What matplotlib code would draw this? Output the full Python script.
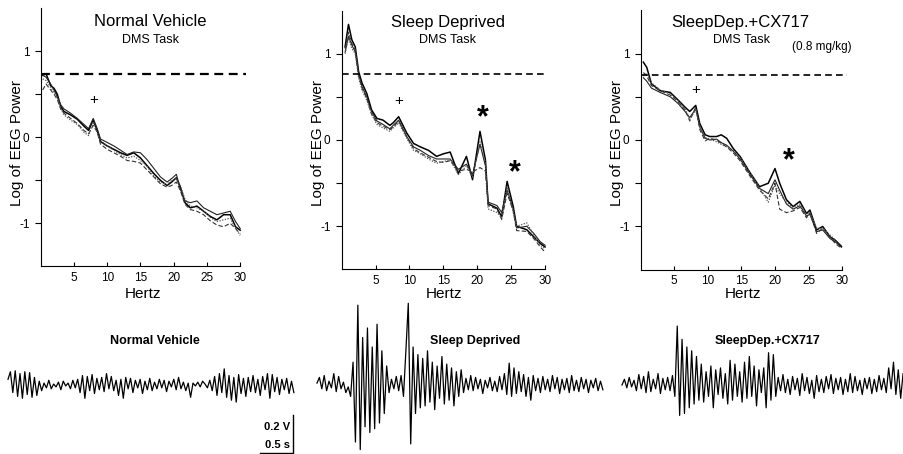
import matplotlib

matplotlib.use("Agg")

import matplotlib.pyplot as plt
import numpy as np

plt.rcParams["font.family"] = ["Liberation Sans", "DejaVu Sans"]

W, H = 904, 454

# ---- power spectra (log EEG power vs Hz), four overlaid sessions per panel ----
NV_HZ = [0.3, 0.8, 1.5, 2.0, 2.5, 3.0, 3.5, 4.5, 5.5, 6.5, 7.2, 7.9, 8.5, 9.0, 10, 11, 12, 13,
         14, 15, 16, 17, 18, 19, 19.7, 20.4, 21, 21.7, 22.5, 23.5, 24.5, 25.5, 26.5, 27.5,
         28.5, 29.3, 30]
NV_A = [0.72, 0.74, 0.60, 0.57, 0.50, 0.36, 0.30, 0.26, 0.21, 0.13, 0.08, 0.20, 0.08, -0.05,
        -0.10, -0.14, -0.18, -0.21, -0.18, -0.24, -0.33, -0.42, -0.50, -0.56, -0.52, -0.47,
        -0.58, -0.76, -0.82, -0.80, -0.86, -0.92, -0.96, -0.90, -0.90, -1.04, -1.08]
NV_B = [0.72, 0.70, 0.62, 0.55, 0.47, 0.38, 0.33, 0.28, 0.22, 0.15, 0.10, 0.22, 0.10, -0.02,
        -0.06, -0.10, -0.15, -0.20, -0.17, -0.18, -0.26, -0.36, -0.46, -0.52, -0.48, -0.43,
        -0.60, -0.74, -0.76, -0.74, -0.82, -0.86, -0.90, -0.88, -0.86, -0.98, -1.06]
NV_C = [0.55, 0.62, 0.55, 0.50, 0.44, 0.33, 0.28, 0.22, 0.16, 0.08, 0.04, 0.14, 0.06, -0.08,
        -0.14, -0.18, -0.22, -0.27, -0.28, -0.30, -0.38, -0.46, -0.54, -0.58, -0.56, -0.52,
        -0.62, -0.78, -0.84, -0.86, -0.90, -0.97, -1.02, -1.04, -1.00, -1.06, -1.12]
NV_D = [0.68, 0.66, 0.58, 0.52, 0.46, 0.34, 0.26, 0.20, 0.15, 0.06, 0.02, 0.18, 0.05, -0.04,
        -0.10, -0.15, -0.20, -0.24, -0.22, -0.27, -0.34, -0.45, -0.52, -0.55, -0.50, -0.48,
        -0.56, -0.72, -0.80, -0.82, -0.86, -0.93, -0.98, -0.96, -0.94, -1.06, -1.14]

SD_HZ = [0.5, 1.0, 1.5, 2.0, 2.5, 3.0, 3.7, 4.4, 5.2, 6.1, 7.1, 7.6, 8.4, 9.6, 10.6, 11.6, 12.8,
         14.0, 15.0, 16.0, 17.2, 18.4, 19.3, 20.4, 21.2, 21.6, 22.9, 23.6, 24.4, 25.3, 25.8,
         27.3, 28.3, 29.3, 30]
SD_A = [1.08, 1.34, 1.16, 1.08, 0.79, 0.66, 0.54, 0.35, 0.25, 0.23, 0.17, 0.20, 0.27, 0.08,
        -0.04, -0.08, -0.12, -0.19, -0.16, -0.14, -0.39, -0.19, -0.46, 0.10, -0.23, -0.74,
        -0.79, -0.89, -0.48, -0.77, -1.00, -1.04, -1.12, -1.20, -1.24]
SD_B = [1.02, 1.20, 1.10, 1.02, 0.76, 0.62, 0.50, 0.33, 0.22, 0.18, 0.13, 0.17, 0.23, 0.04,
        -0.08, -0.12, -0.18, -0.22, -0.22, -0.22, -0.34, -0.28, -0.40, -0.05, -0.30, -0.72,
        -0.76, -0.84, -0.58, -0.80, -1.02, -1.00, -1.08, -1.18, -1.22]
SD_C = [1.06, 1.25, 1.12, 1.05, 0.74, 0.60, 0.48, 0.30, 0.20, 0.16, 0.12, 0.15, 0.22, 0.03,
        -0.10, -0.15, -0.20, -0.25, -0.26, -0.24, -0.36, -0.34, -0.37, -0.32, -0.36, -0.76,
        -0.80, -0.92, -0.62, -0.82, -1.05, -1.06, -1.14, -1.24, -1.30]
SD_D = [1.00, 1.18, 1.06, 1.00, 0.72, 0.58, 0.46, 0.30, 0.18, 0.14, 0.10, 0.14, 0.20, 0.02,
        -0.12, -0.16, -0.22, -0.27, -0.25, -0.23, -0.40, -0.30, -0.43, -0.02, -0.26, -0.80,
        -0.84, -0.90, -0.54, -0.84, -1.00, -0.96, -1.10, -1.22, -1.26]

CX_HZ = [0.4, 0.9, 1.6, 2.9, 4.4, 5.6, 6.6, 7.3, 8.2, 8.8, 9.6, 10.3, 11.3, 12.0, 12.8, 13.8,
         14.8, 16.3, 17.7, 19.0, 20.0, 20.7, 21.7, 22.7, 23.7, 24.7, 25.2, 26.2, 27.1, 28.2,
         29.0, 29.9]
CX_A = [0.90, 0.84, 0.65, 0.57, 0.55, 0.46, 0.38, 0.33, 0.40, 0.19, 0.06, 0.04, 0.04, 0.06,
        0.02, -0.10, -0.19, -0.38, -0.54, -0.50, -0.33, -0.50, -0.69, -0.77, -0.71, -0.85,
        -0.81, -1.04, -1.00, -1.12, -1.16, -1.23]
CX_B = [0.72, 0.68, 0.60, 0.55, 0.50, 0.42, 0.33, 0.26, 0.36, 0.15, 0.02, 0.00, 0.01, -0.03,
        -0.06, -0.13, -0.22, -0.40, -0.56, -0.62, -0.46, -0.58, -0.74, -0.80, -0.76, -0.88,
        -0.86, -1.06, -1.04, -1.14, -1.18, -1.24]
CX_C = [0.78, 0.74, 0.63, 0.57, 0.52, 0.44, 0.35, 0.22, 0.38, 0.12, -0.01, 0.02, 0.00, -0.04,
        -0.08, -0.15, -0.24, -0.42, -0.58, -0.68, -0.50, -0.80, -0.84, -0.82, -0.78, -0.90,
        -0.84, -1.08, -1.02, -1.12, -1.20, -1.25]
CX_D = [0.74, 0.77, 0.66, 0.58, 0.53, 0.45, 0.36, 0.24, 0.35, 0.16, 0.03, 0.01, -0.02, -0.05,
        -0.08, -0.12, -0.20, -0.38, -0.55, -0.72, -0.52, -0.62, -0.72, -0.78, -0.74, -0.86,
        -0.84, -1.02, -1.02, -1.10, -1.16, -1.22]

PANEL_TITLES = ["Normal Vehicle", "Sleep Deprived", "SleepDep.+CX717"]
THRESHOLDS = [0.74, 0.76, 0.75]
NV_MARKS = [("+", 7.9, 0.43)]
SD_MARKS = [("+", 8.4, 0.45), ("*", 20.8, 0.37), ("*", 25.6, -0.27)]
CX_MARKS = [("+", 8.2, 0.58), ("*", 22.0, -0.12)]
X_TICKS = [5, 10, 15, 20, 25, 30]
Y_TICKS = [-1, 0, 1]
Y_TICK_LABELS = ["-1", "0", "1"]

# ---- raw EEG samples (mV), one sample every 0.0364 s ----
TRACE_NAMES = ["Normal Vehicle", "Sleep Deprived", "SleepDep.+CX717"]
EEG_NV = [30, 70, -40, 75, -60, 60, -70, 70, -50, 65, -65, 40, -55,
          20, -30, 10, -15, 25, -20, 5, -10, 15, -25, 20, -5, 10, -20, 25, -15, 30,
          -40, 50, -70, 45, -30, 55, -45, 35, -25, 40,
          -35, 60, -20, 45, -30, 25, -55, 30, -70, 40,
          -20, 35, -40, 25, -15, 30, -45, 20, -25, 35, -30,
          15, -20, 30, -15, 25, -35, 20, -10, 30, -25, 40, -20, 15, -30, 10, -65,
          10, -5, 15, -10, 20, 5, -15, 25,
          -30, 45, -55, 60, -40, 85, -65, 50, -80, 40, -90, 55, -45, 35, -60, 40,
          -35, 50, -40, 30, -55, 45, -25, 60, -70, 55, -35, 40, -50, 30, -25, 35, -45, 20, -40]
EEG_SD = [10, 40, -20, 50, -30, 20, -15, 60, -35, 45, -20, 15, -40,
          -10, -60, 120,
          -300, 420, -340, 250, -220, 300, -250, 200, -230, 320, -200, 180, -150, 100,
          -40, 30, -20, 45, -30, 50, -60,
          180, 430, -310, 200,
          -150, 160, -120, 140, -110, 180, -90, 120, -130, 100, -70, 150, -100, 110, -80, 90,
          -110, 70, -60, 80,
          -40, 35, -25, 50, -30, 40, -20, 30, -45, 25, -15, 40, -30, 20, -35, 45, -25, 60,
          -50, 115, -60, 90, -45, 70, -35, 55,
          -60, 40, -80, 50, -30, 35, -40, 45, -25, 30, -35, 50, -20, 40, -45, 30, -25, 35,
          -40, 50, -30, 25, -35, 40, -20, 30, -40, 25, -15, 35, -30, 20, -25]
EEG_CX = [0, 30, -15, 40, -10, 25, -30, 55, -20, 45, -40, 70, -35, 30, -20, 60, -45, 35, -25,
          40, -30, 50,
          -60, 310, -160, 240, -150, 200, -120, 180, -100, 150,
          -80, 110, -90, 70, -60, 100, -120, 80, -50, 90, -70, 60, -100, 130, -80, 110, -60,
          70, -90, 120, -70, 150, -60, 100, -110, 80, -40,
          90, -120, 170, -80, 160, -60,
          40, -30, 55, -40, 30, -50, 45, -25, 35, -55, 60, -30, 40, -45, 25, -70, 50, -35, 30,
          -40, 45, -20, 55, -45, 35, -25, 40, -50, 30, -35, 60, -40, 45, -30, 25, -50, 35, -20,
          40, -45, 30, -35, 50, -25, 35, -40,
          90, -20, 120, -50, 80, -70, 60]
SAMPLE_DT = 0.0364
SCALE_V = 0.2
SCALE_S = 0.5


def px_axes(fig, left, top, right, bottom):
    return fig.add_axes([left / W, 1 - bottom / H, (right - left) / W, (bottom - top) / H])


fig = plt.figure(figsize=(W / 100, H / 100), dpi=100)

# pixel boxes of the three spectrum panels (left, top, right, bottom)
boxes = [(40.7, 8.3, 245.5, 266.3), (341.7, 10.6, 550.5, 269.4), (640.7, 10.3, 847.5, 269.7)]
title_x = [150, 448, 740]
sub_x = [150, 448, 742]
spectra = [
    (NV_HZ, [NV_A, NV_B, NV_C, NV_D], NV_MARKS),
    (SD_HZ, [SD_A, SD_B, SD_C, SD_D], SD_MARKS),
    (CX_HZ, [CX_A, CX_B, CX_C, CX_D], CX_MARKS),
]
styles = [
    dict(color="black", lw=1.1, ls="-"),
    dict(color="#222222", lw=0.8, ls="-"),
    dict(color="#333333", lw=0.8, ls=(0, (4, 2))),
    dict(color="#555555", lw=0.9, ls=(0, (1, 1.2))),
]
dash_end = [1.0, 30.3 / 30.8, 1.0]

for i, (box, (hz, curves, marks)) in enumerate(zip(boxes, spectra)):
    ax = px_axes(fig, *box)
    for curve, st in zip(curves, styles):
        ax.plot(hz, curve, **st)
    ax.axhline(THRESHOLDS[i], xmin=0, xmax=dash_end[i], color="black",
               lw=1.6 if i == 0 else 1.2, ls=(0, (4, 2.5)))
    for sym, fx, fy in marks:
        if sym == "+":
            ax.text(fx, fy, sym, ha="center", va="center", fontsize=11)
        else:
            ax.text(fx, fy - 0.12, sym, ha="center", va="center", fontsize=22,
                    fontweight="bold")
    ax.set_xlim(0, 30.8)
    ax.set_ylim(-1.5, 1.5)
    for side in ("top", "right"):
        ax.spines[side].set_visible(False)
    ax.spines["bottom"].set_bounds(0, 30)
    for side in ("left", "bottom"):
        ax.spines[side].set_linewidth(0.8)
    ax.set_xticks(X_TICKS)
    ax.set_yticks(Y_TICKS)
    ax.set_yticklabels(Y_TICK_LABELS)
    ax.set_yticks([-0.5, 0.5], minor=True)
    ax.tick_params(axis="y", which="both", direction="out", length=4, width=0.8,
                   labelsize=8.5, pad=4)
    ax.tick_params(axis="x", direction="in", length=3, width=0.8, labelsize=8.5, pad=4)
    ax.patch.set_alpha(0)

    fig.text(title_x[i] / W, 1 - 22 / H, PANEL_TITLES[i], ha="center", va="center",
             fontsize=12)
    fig.text(sub_x[i] / W, 1 - 40 / H, "DMS Task", ha="center", va="center", fontsize=9)
    fig.text((box[0] - 23.5) / W, 1 - 143 / H, "Log of EEG Power", rotation=90,
             ha="center", va="center", fontsize=11)
    fig.text((box[0] + 102) / W, 1 - 294 / H, "Hertz", ha="center", va="center",
             fontsize=11)

fig.text(822 / W, 1 - 47 / H, "(0.8 mg/kg)", ha="center", va="center", fontsize=8.5)

# ---- raw EEG traces ----
ax_eeg = px_axes(fig, 0, 300, W, H)
ax_eeg.set_xlim(0, W / 66)
ax_eeg.set_ylim(-69 / 190, 85 / 190)
ax_eeg.axis("off")

trace_starts = [8 / 66, 317 / 66, 622 / 66]
label_x = [155, 475, 768]
for name, data, t0, lx in zip(TRACE_NAMES, [EEG_NV, EEG_SD, EEG_CX], trace_starts, label_x):
    t = t0 + np.arange(len(data)) * SAMPLE_DT
    ax_eeg.plot(t, np.array(data) / 1000, color="black", lw=0.9)
    fig.text(lx / W, 1 - 341 / H, name, ha="center", va="center", fontsize=9,
             fontweight="bold")

# scale bar
bar_t = 293 / 66
bar_v = -68 / 190
ax_eeg.plot([bar_t - SCALE_S, bar_t, bar_t], [bar_v, bar_v, bar_v + SCALE_V],
            color="black", lw=1.0, clip_on=False)
ax_eeg.text(bar_t - 0.05, bar_v + 0.137, f"{SCALE_V} V", ha="right", va="center",
            fontsize=8, fontweight="bold")
ax_eeg.text(bar_t - 0.05, bar_v + 0.042, f"{SCALE_S} s", ha="right", va="center",
            fontsize=8, fontweight="bold")

fig.savefig("out.png", dpi=100)
